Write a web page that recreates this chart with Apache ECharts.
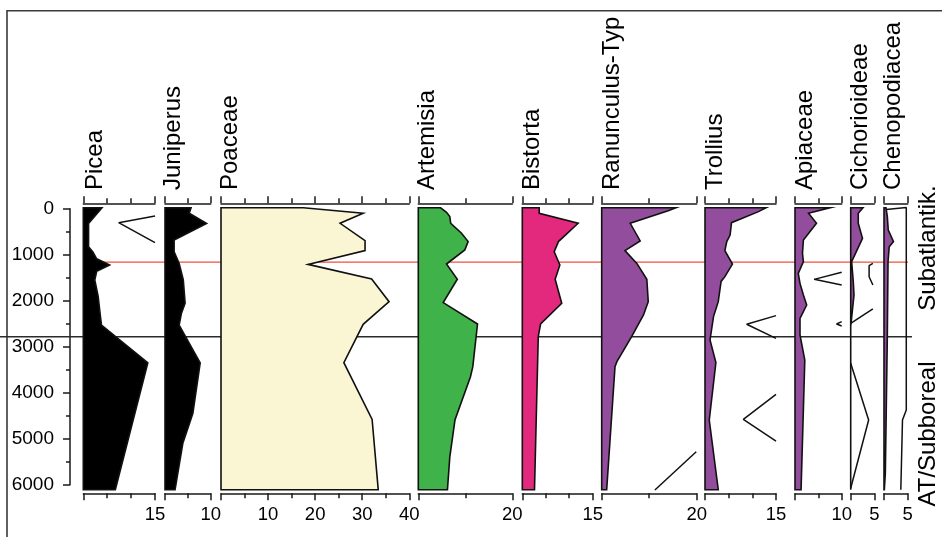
<!DOCTYPE html>
<html><head><meta charset="utf-8">
<script src="https://cdn.jsdelivr.net/npm/echarts@6/dist/echarts.min.js"></script>
<style>html,body{margin:0;padding:0;background:#fff}#c{width:942px;height:537px}</style>
</head><body><div id="c"></div>
<script>
// ---------- DATA (depth in years, value in %) ----------
const taxa = ['Picea','Juniperus','Poaceae','Artemisia','Bistorta','Ranunculus-Typ','Trollius','Apiaceae','Cichorioideae','Chenopodiacea'];
const axisMax = [15, 10, 40, 20, 15, 20, 15, 10, 5, 5];
const tickInterval = [15, 10, 10, 20, 15, 20, 15, 10, 5, 5];
const minorSplit = [3, 2, 2, 2, 3, 2, 3, 2, 1, 1];
const bottomTickLabels = [[15],[10],[10,20,30,40],[20],[15],[20],[15],[10],[5],[5]];
const zoneBoundaries = [1160, 2785];
const zoneNames = ['Subatlantik.', 'AT/Subboreal'];

const picea = [[-20,3.9],[320,1.1],[830,1.1],[940,2.0],[1090,2.8],[1225,5.5],[1360,2.8],[1550,2.4],[1900,3.1],[2270,3.5],[2530,3.8],[3350,13.5],[6110,6.7]];
const juniperus = [[-20,5.7],[100,5.3],[320,9.1],[680,2.0],[935,2.0],[1190,3.1],[1550,4.0],[2055,4.4],[2270,3.6],[2530,3.1],[3350,7.7],[4450,6.1],[5100,3.9],[6110,2.2]];
const poaceae = [[-20,17.5],[100,30.2],[317,25.3],[694,30.6],[911,30.6],[1210,18.5],[1527,32.0],[2021,35.7],[2513,30.2],[3347,26.1],[4580,32.1],[6110,33.4]];
const artemisia = [[-20,4.75],[78,6.0],[172,6.7],[317,6.9],[534,9.2],[715,10.6],[896,9.9],[1203,6.0],[1534,8.3],[2041,5.3],[2506,12.6],[3434,11.6],[3652,11.1],[4594,7.8],[5400,6.7],[6110,6.2]];
const bistorta = [[-20,3.6],[101,3.6],[317,11.9],[715,7.7],[935,6.8],[1224,8.0],[1534,7.0],[2055,8.4],[2506,3.9],[2782,3.4],[6110,2.6]];
const ranunculus = [[-20,15.6],[43,14.0],[317,6.0],[701,8.1],[911,4.9],[1189,7.4],[1534,9.5],[2021,9.8],[2309,8.8],[2782,6.3],[3325,3.2],[3434,2.8],[6110,1.05]];
const trollius = [[-20,12.9],[64,11.3],[303,5.6],[572,5.3],[715,4.6],[911,4.2],[1203,5.8],[1477,4.2],[1580,3.4],[2021,2.8],[2346,1.8],[2854,1.06],[3347,2.3],[4594,0.9],[6110,2.8]];
const apiaceae = [[-20,7.5],[100,2.9],[317,4.6],[680,1.8],[970,1.6],[1152,1.8],[1405,0.7],[1623,1.07],[1876,1.8],[2094,2.5],[2384,1.07],[2746,1.07],[3289,2.1],[6110,1.3]];
const cichorioideae = [[-20,2.6],[100,1.6],[317,1.6],[645,2.5],[1152,0.2],[1587,0.55],[1876,0.7],[2166,0.4],[2492,0.07],[2550,0],[6110,0]];
const chenopodiaceae = [[-20,0.42],[172,0.7],[462,0.9],[715,2.0],[826,1.1],[1152,0.85],[2782,0.7],[5753,0.28],[6110,0.07]];

// exaggeration curves (visible parts)
const piceaExag = [[160,15],[303,7.4],[738,15]];
const ranunculusExag = [[5283,19.9],[6116,11.2]];
const trolliusExagA = [[2324,15],[2513,8.8],[2818,15]];
const trolliusExagB = [[4036,15],[4580,8.1],[5051,15]];
const apiaceaeExagA = [[1383,10],[1536,4.1],[1659,10]];
const apiaceaeExagB = [[2456,10],[2507,8.9],[2551,10]];
const cichExagA = [[1188,4.7],[1239,3.9],[1478,3.9],[1659,4.7]];
const cichExagB = [[2180,4.7],[2492,0]];
const cichExagC = [[3362,0],[4593,3.8],[6078,0]];
const chenoExag = [[15,0.45],[-25,4.7],[4376,4.7],[4594,3.9],[6110,3.55]];

const seriesData = [picea, juniperus, poaceae, artemisia, bistorta, ranunculus, trollius, apiaceae, cichorioideae, chenopodiaceae];
const exagData = [[piceaExag],[],[],[],[],[ranunculusExag],[trolliusExagA, trolliusExagB],[apiaceaeExagA, apiaceaeExagB],[cichExagA, cichExagB, cichExagC],[chenoExag]];

// ---------- LAYOUT ----------
const FONT = '"Liberation Sans", Arial, Helvetica, sans-serif';
const TOP = 203.3, BOT = 493.3;
const DMIN = -117.4, DMAX = 6187;
const AX = '#1a1a1a';
const purple = '#934D9D';
const panels = [
  {left: 83.3, width: 71.7, fill: '#000000', tx: 95},
  {left: 165, width: 45.7, fill: '#000000', tx: 173.6},
  {left: 221, width: 188.3, fill: '#FAF6D3', tx: 230.3},
  {left: 418.3, width: 94, fill: '#40B24A', tx: 427},
  {left: 522.3, width: 70.4, fill: '#E3297D', tx: 532},
  {left: 601.7, width: 95, fill: purple, tx: 612},
  {left: 705, width: 71, fill: purple, tx: 715.3},
  {left: 795, width: 46.7, fill: purple, tx: 805.3},
  {left: 850.7, width: 23.6, fill: purple, tx: 860.3},
  {left: 884, width: 23.7, fill: purple, tx: 893.6}
];

const grids = [], xAxes = [], yAxes = [], series = [];
const lineStyle = {color: AX, width: 1.5};

panels.forEach((p, i) => {
  grids.push({left: p.left, top: TOP, width: p.width, height: BOT - TOP, containLabel: false, outerBoundsMode: 'none'});
  const labels = bottomTickLabels[i];
  const common = {
    gridIndex: i, type: 'value', min: 0, max: axisMax[i], interval: tickInterval[i],
    axisLine: {show: true, onZero: false, lineStyle},
    axisTick: {show: true, length: 7, lineStyle},
    minorTick: {show: minorSplit[i] > 1, splitNumber: minorSplit[i], length: 5, lineStyle},
    splitLine: {show: false}, minorSplitLine: {show: false}
  };
  xAxes.push(Object.assign({}, common, {
    position: 'bottom',
    axisLabel: {show: true, margin: 12, fontSize: 18.5, fontFamily: FONT, color: '#000',
      formatter: v => labels.indexOf(v) >= 0 ? String(v) : ''}
  }));
  xAxes.push(Object.assign({}, common, {position: 'top', axisLabel: {show: false}}));
  yAxes.push({gridIndex: i, type: 'value', min: DMIN, max: DMAX, inverse: true, show: false});

  const arr = seriesData[i];
  series.push({
    type: 'custom', xAxisIndex: 2 * i, yAxisIndex: i, z: 3, silent: true, animation: false,
    data: arr, encode: {x: 1, y: 0},
    renderItem: function (params, api) {
      if (params.dataIndex !== 0) return null;
      const pts = [api.coord([0, arr[0][0]])];
      arr.forEach(d => pts.push(api.coord([d[1], d[0]])));
      pts.push(api.coord([0, arr[arr.length - 1][0]]));
      return {type: 'polygon', shape: {points: pts},
        style: {fill: p.fill, stroke: '#111', lineWidth: 1.6, lineJoin: 'miter'}};
    }
  });
  exagData[i].forEach(ex => {
    series.push({type: 'line', xAxisIndex: 2 * i, yAxisIndex: i, data: ex, encode: {x: 1, y: 0},
      symbol: 'none', showSymbol: false, lineStyle: {color: '#111', width: 1.5}, z: 4,
      silent: true, animation: false, clip: false});
  });
});

// depth axis grid (index 10)
grids.push({left: 70, top: 208.7, width: 1, height: 276, containLabel: false, outerBoundsMode: 'none'});
xAxes.push({gridIndex: 10, type: 'value', show: false});
yAxes.push({gridIndex: 10, type: 'value', min: 0, max: 6000, interval: 1000, inverse: true, position: 'left',
  axisLine: {show: true, onZero: false, lineStyle},
  axisTick: {show: true, length: 7, lineStyle},
  minorTick: {show: true, splitNumber: 2, length: 4, lineStyle},
  splitLine: {show: false},
  axisLabel: {show: true, margin: 16, fontSize: 19, fontFamily: FONT, color: '#000', formatter: v => String(v)}});

// zone boundary lines (grids 11: black, 12: red)
grids.push({left: 0, top: TOP, width: 912, height: BOT - TOP, containLabel: false, outerBoundsMode: 'none'});
xAxes.push({gridIndex: 11, type: 'value', min: 0, max: 1, show: false});
yAxes.push({gridIndex: 11, type: 'value', min: DMIN, max: DMAX, inverse: true, show: false});
grids.push({left: 83, top: TOP, width: 825, height: BOT - TOP, containLabel: false, outerBoundsMode: 'none'});
xAxes.push({gridIndex: 12, type: 'value', min: 0, max: 1, show: false});
yAxes.push({gridIndex: 12, type: 'value', min: DMIN, max: DMAX, inverse: true, show: false});
series.push({type: 'line', xAxisIndex: 21, yAxisIndex: 11, data: [[0, zoneBoundaries[1]], [1, zoneBoundaries[1]]],
  symbol: 'none', lineStyle: {color: '#2b2b2b', width: 1.6}, z: 1, silent: true, animation: false});
series.push({type: 'line', xAxisIndex: 22, yAxisIndex: 12, data: [[0, zoneBoundaries[0]], [1, zoneBoundaries[0]]],
  symbol: 'none', lineStyle: {color: '#F0503A', width: 1.3}, z: 1, silent: true, animation: false});

// titles & zone names
const graphic = [{type: 'polyline', shape: {points: [[7, 540], [7, 10.7], [945, 10.7]]},
  style: {stroke: '#3a3a3a', lineWidth: 1.6, fill: null}, silent: true}];
panels.forEach((p, i) => {
  graphic.push({type: 'text', x: p.tx, y: 190, rotation: Math.PI / 2, silent: true,
    style: {text: taxa[i], font: '24px ' + FONT, fill: '#000', align: 'left', verticalAlign: 'middle'}});
});
graphic.push({type: 'text', x: 928.6, y: 248, rotation: Math.PI / 2, silent: true,
  style: {text: zoneNames[0], font: '24px ' + FONT, fill: '#000', align: 'center', verticalAlign: 'middle'}});
graphic.push({type: 'text', x: 928.6, y: 434, rotation: Math.PI / 2, silent: true,
  style: {text: zoneNames[1], font: '24px ' + FONT, fill: '#000', align: 'center', verticalAlign: 'middle'}});

const chart = echarts.init(document.getElementById('c'), null, {renderer: 'canvas'});
chart.setOption({
  animation: false, backgroundColor: '#fff',
  grid: grids, xAxis: xAxes, yAxis: yAxes, series: series, graphic: graphic
});
</script></body></html>
